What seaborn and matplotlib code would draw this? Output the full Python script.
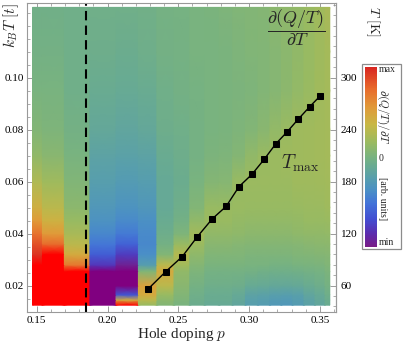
import numpy as np
import matplotlib
matplotlib.use("Agg")
import matplotlib.pyplot as plt
import seaborn as sns
from matplotlib.colors import LinearSegmentedColormap, Normalize
from matplotlib.cm import ScalarMappable
from matplotlib.patches import Rectangle
from matplotlib.ticker import MultipleLocator

# --- data ---
doping = [0.147, 0.161, 0.178, 0.197, 0.215, 0.2286, 0.2411, 0.2528, 0.2634, 0.2740,
          0.2838, 0.2929, 0.3020, 0.3107, 0.3188, 0.3268, 0.3347, 0.3428, 0.3503, 0.357]
temps = [0.0125, 0.0145, 0.0165, 0.02, 0.0255, 0.028, 0.032, 0.036, 0.04, 0.045,
         0.05, 0.06, 0.07, 0.08, 0.095, 0.11, 0.127]

# one list per doping column, values at the temps above (scaled so that +-1 = max/min)
dqdt_columns = [
    [1.5, 1.5, 1.5, 1.5, 1.5, 1.5, 0.95, 0.85, 0.72, 0.55, 0.42, 0.25, 0.12, 0.05, 0.0, -0.03, -0.04],
    [1.5, 1.5, 1.5, 1.5, 1.5, 1.5, 1.5, 0.75, 0.55, 0.4, 0.3, 0.18, 0.08, 0.03, 0.0, -0.03, -0.04],
    [1.5, 1.5, 1.5, 1.5, 1.5, 0.7, 0.45, 0.3, 0.22, 0.15, 0.1, 0.04, 0.0, -0.03, -0.05, -0.05, -0.05],
    [-1.5, -1.5, -1.5, -1.5, -1.5, -0.8, -0.62, -0.5, -0.42, -0.35, -0.3, -0.24, -0.19, -0.14, -0.1, -0.07, -0.05],
    [1.5, 0.45, -0.65, -1.5, -1.2, -0.95, -0.78, -0.6, -0.48, -0.4, -0.34, -0.27, -0.21, -0.16, -0.11, -0.08, -0.05],
    [0.15, 0.3, 0.45, 0.5, 0.05, -0.25, -0.38, -0.41, -0.4, -0.36, -0.31, -0.25, -0.19, -0.14, -0.1, -0.06, -0.04],
    [0.05, 0.1, 0.15, 0.3, 0.45, 0.3, 0.05, -0.03, -0.07, -0.1, -0.12, -0.12, -0.1, -0.07, -0.05, -0.03, -0.02],
    [0.0, 0.03, 0.05, 0.08, 0.12, 0.2, 0.28, 0.15, 0.03, -0.03, -0.06, -0.08, -0.07, -0.05, -0.03, -0.02, -0.01],
    [-0.08, -0.07, -0.05, -0.02, 0.03, 0.06, 0.11, 0.17, 0.2, 0.12, 0.05, 0.0, -0.02, -0.02, -0.01, 0.0, 0.0],
    [-0.12, -0.1, -0.09, -0.06, -0.02, 0.01, 0.04, 0.08, 0.12, 0.17, 0.15, 0.06, 0.02, 0.0, 0.0, 0.0, 0.01],
    [-0.12, -0.1, -0.09, -0.06, -0.02, 0.01, 0.04, 0.08, 0.12, 0.16, 0.16, 0.07, 0.03, 0.01, 0.01, 0.01, 0.03],
    [-0.16, -0.14, -0.12, -0.07, -0.02, 0.01, 0.04, 0.07, 0.11, 0.14, 0.16, 0.15, 0.06, 0.03, 0.02, 0.03, 0.04],
    [-0.24, -0.22, -0.19, -0.11, -0.03, 0.0, 0.03, 0.06, 0.1, 0.13, 0.15, 0.17, 0.12, 0.05, 0.03, 0.04, 0.05],
    [-0.26, -0.24, -0.21, -0.12, -0.04, 0.0, 0.03, 0.06, 0.1, 0.13, 0.15, 0.17, 0.16, 0.08, 0.05, 0.05, 0.06],
    [-0.29, -0.27, -0.23, -0.14, -0.05, -0.01, 0.03, 0.06, 0.1, 0.13, 0.15, 0.17, 0.17, 0.13, 0.07, 0.07, 0.09],
    [-0.3, -0.28, -0.24, -0.14, -0.05, -0.01, 0.03, 0.06, 0.1, 0.13, 0.15, 0.17, 0.18, 0.16, 0.1, 0.09, 0.11],
    [-0.27, -0.25, -0.22, -0.13, -0.04, 0.0, 0.04, 0.07, 0.11, 0.14, 0.16, 0.18, 0.18, 0.18, 0.13, 0.12, 0.13],
    [-0.21, -0.19, -0.16, -0.1, -0.03, 0.01, 0.05, 0.08, 0.12, 0.15, 0.17, 0.18, 0.19, 0.19, 0.16, 0.15, 0.16],
    [-0.16, -0.14, -0.12, -0.07, -0.01, 0.02, 0.06, 0.09, 0.12, 0.15, 0.17, 0.19, 0.2, 0.2, 0.19, 0.18, 0.19],
    [-0.1, -0.08, -0.06, -0.02, 0.02, 0.04, 0.07, 0.1, 0.13, 0.16, 0.18, 0.2, 0.21, 0.21, 0.21, 0.21, 0.22],
]

tmax_doping = [0.2286, 0.2411, 0.2528, 0.2634, 0.2740, 0.2838, 0.2929, 0.3020, 0.3107,
               0.3188, 0.3268, 0.3347, 0.3428, 0.3503]
tmax_temp = [0.0187, 0.0254, 0.0312, 0.0388, 0.0457, 0.0505, 0.0581, 0.0628, 0.0686,
             0.0745, 0.0791, 0.0840, 0.0888, 0.0930]

p_critical = 0.1848
kelvin_per_t = 3000.0

# --- style ---
sns.set_theme(style="ticks")
plt.rcParams.update({
    "font.family": ["Liberation Serif", "DejaVu Serif"],
    "mathtext.fontset": "cm",
    "axes.edgecolor": "0.6",
    "axes.linewidth": 0.8,
    "xtick.color": "0.55",
    "ytick.color": "0.55",
    "xtick.labelcolor": "black",
    "ytick.labelcolor": "black",
    "xtick.labelsize": 8,
    "ytick.labelsize": 8,
})

# Mathematica-like "Rainbow" gradient
rainbow = LinearSegmentedColormap.from_list("rainbow_mma", [
    (0.00, (0.47, 0.11, 0.53)),
    (0.07, (0.36, 0.17, 0.68)),
    (0.15, (0.26, 0.30, 0.82)),
    (0.24, (0.26, 0.45, 0.85)),
    (0.31, (0.29, 0.56, 0.78)),
    (0.38, (0.34, 0.62, 0.68)),
    (0.45, (0.41, 0.67, 0.57)),
    (0.50, (0.47, 0.70, 0.50)),
    (0.58, (0.60, 0.73, 0.38)),
    (0.68, (0.78, 0.72, 0.27)),
    (0.78, (0.88, 0.60, 0.22)),
    (0.88, (0.91, 0.42, 0.17)),
    (1.00, (0.85, 0.15, 0.13)),
])
rainbow.set_over((1.0, 0.0, 0.0))
rainbow.set_under((0.5, 0.0, 0.5))
norm = Normalize(vmin=-1, vmax=1)

fig = plt.figure(figsize=(4.07, 3.44), dpi=100)
W, H = 407, 344
ax = fig.add_axes([26.7 / W, 1 - 311.7 / H, (336 - 26.7) / W, (311.7 - 2.7) / H])

# columns are stripes between doping midpoints, smooth in temperature
d = np.array(doping)
edges = np.concatenate([[d[0]], (d[:-1] + d[1:]) / 2, [d[-1]]])
xs = np.column_stack([edges[:-1], edges[1:]]).ravel()
vals = np.repeat(np.array(dqdt_columns).T, 2, axis=1)
XX, YY = np.meshgrid(xs, temps)
ax.pcolormesh(XX, YY, vals, shading="gouraud", cmap=rainbow, norm=norm)

ax.axvline(p_critical, color="black", lw=1.5, ls=(0, (4.5, 2.5)))
sns.lineplot(x=tmax_doping, y=tmax_temp, ax=ax, color="black", lw=1.0,
             marker="s", markersize=5, markeredgecolor="black", zorder=5)

ax.set_xlim(0.1429, 0.3614)
ax.set_ylim(0.0100, 0.1288)
ax.set_xticks([0.15, 0.20, 0.25, 0.30, 0.35])
ax.set_xticklabels(["0.15", "0.20", "0.25", "0.30", "0.35"])
ax.set_yticks([0.02, 0.04, 0.06, 0.08, 0.10])
ax.set_yticklabels(["0.02", "0.04", "0.06", "0.08", "0.10"])
ax.xaxis.set_minor_locator(MultipleLocator(0.01))
ax.yaxis.set_minor_locator(MultipleLocator(0.005))
ax.tick_params(which="both", direction="in", top=True, right=False)
ax.tick_params(which="major", length=4, width=0.6)
ax.tick_params(which="minor", length=2, width=0.5)
ax.tick_params(axis="y", pad=2)
ax.tick_params(axis="x", pad=3)
for s in ax.spines.values():
    s.set_color("0.6")

sec = ax.secondary_yaxis("right", functions=(lambda t: t * kelvin_per_t,
                                             lambda k: k / kelvin_per_t))
sec.set_yticks([60, 120, 180, 240, 300])
sec.yaxis.set_minor_locator(MultipleLocator(12))
sec.tick_params(which="both", direction="in", pad=3.5)
sec.tick_params(which="major", length=4, width=0.6)
sec.tick_params(which="minor", length=2, width=0.5)
sec.spines["right"].set_color("0.6")

ax.set_xlabel("Hole doping $p$", fontsize=11, labelpad=0.5)
ax.set_ylabel("")
fig.text(11 / W, 1 - 3 / H, r"$k_BT\ [t]$", rotation=90, ha="center", va="top", fontsize=11)
fig.text(373 / W, 1 - 6 / H, r"$T\ [\mathrm{K}]$", rotation=-90, ha="center", va="top", fontsize=10)

ax.text(0.3331, 0.1191, r"$\dfrac{\partial(Q/T)}{\partial T}$", ha="center", va="center", fontsize=13)
ax.text(0.336, 0.0672, r"$T_{\rm max}$", ha="center", va="center", fontsize=14)

# colorbar with its own frame
cax = fig.add_axes([365.3 / W, 1 - 246.7 / H, 11.4 / W, 179.4 / H])
cb = fig.colorbar(ScalarMappable(norm=norm, cmap=rainbow), cax=cax)
cb.set_ticks([])
cb.outline.set_visible(False)
fig.add_artist(Rectangle((362 / W, 1 - 249.3 / H), 39 / W, 185.3 / H,
                         transform=fig.transFigure, fill=False, ec="0.55", lw=0.9))
fig.text(378.7 / W, 1 - 70 / H, "max", fontsize=7, ha="left", va="center")
fig.text(379 / W, 1 - 158.3 / H, "0", fontsize=7, ha="left", va="center")
fig.text(378.7 / W, 1 - 242.7 / H, "min", fontsize=7, ha="left", va="center")
fig.text(383 / W, 1 - 116.7 / H, r"$\partial(Q/T)/\partial T$", rotation=-90,
         ha="center", va="center", fontsize=8)
fig.text(383 / W, 1 - 199 / H, "[arb. units]", rotation=-90,
         ha="center", va="center", fontsize=7)

fig.savefig("out.png", dpi=100)
